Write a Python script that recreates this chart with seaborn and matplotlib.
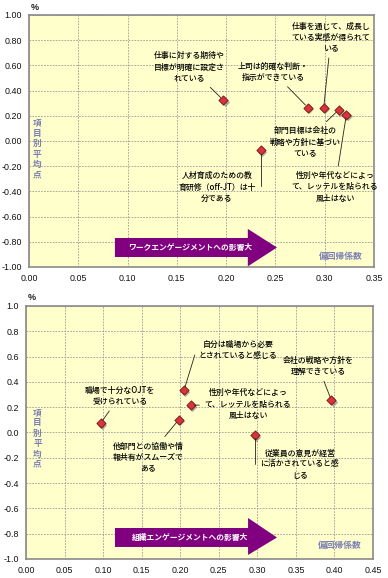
import matplotlib
matplotlib.use("Agg")
import matplotlib.pyplot as plt
import seaborn as sns
import pandas as pd
from matplotlib.patches import Polygon

# ---------------- data ----------------
top_items = [
    "仕事に対する期待や\n目標が明確に設定さ\nれている",
    "上司は的確な判断・\n指示ができている",
    "仕事を通じて、成長し\nている実感が得られて\nいる",
    "部門目標は会社の\n戦略や方針に基づい\nている",
    "性別や年代などによっ\nて、レッテルを貼られる\n風土はない",
    "人材育成のための教\n育研修（off-JT）は十\n分である",
]
top_coef = [0.197, 0.283, 0.299, 0.314, 0.322, 0.235]
top_score = [0.325, 0.265, 0.265, 0.245, 0.210, -0.075]

bot_items = [
    "職場で十分なOJTを\n受けられている",
    "自分は職場から必要\nとされていると感じる",
    "性別や年代などによっ\nて、レッテルを貼られる\n風土はない",
    "他部門との協働や情\n報共有がスムーズで\nある",
    "会社の戦略や方針を\n理解できている",
    "従業員の意見が経営\nに活かされていると感\nじる",
]
bot_coef = [0.097, 0.205, 0.214, 0.198, 0.396, 0.297]
bot_score = [0.075, 0.335, 0.215, 0.100, 0.255, -0.020]

top_xticks = [0.00, 0.05, 0.10, 0.15, 0.20, 0.25, 0.30, 0.35]
top_yticks = [1.00, 0.80, 0.60, 0.40, 0.20, 0.00, -0.20, -0.40, -0.60, -0.80, -1.00]
bot_xticks = [0.00, 0.05, 0.10, 0.15, 0.20, 0.25, 0.30, 0.35, 0.40, 0.45]
bot_yticks = [1.0, 0.8, 0.6, 0.4, 0.2, 0.0, -0.2, -0.4, -0.6, -0.8, -1.0]

top_arrow_text = "ワークエンゲージメントへの影響大"
bot_arrow_text = "組織エンゲージメントへの影響大"
xlab_text = "偏回帰係数"
ylab_text = "項目別平均点"

# label positions (layout)
top_label_pos = [(0.163, 0.587), (0.2475, 0.548), (0.3064, 0.825),
                 (0.280, -0.008), (0.3104, -0.365), (0.1907, -0.365)]
top_conn = [None, None, None, None, None, "angle,angleA=0,angleB=90,rad=0"]
bot_label_pos = [(0.1219, 0.289), (0.275, 0.652), (0.288, 0.225),
                 (0.158, -0.194), (0.3787, 0.526), (0.3553, -0.249)]
bot_conn = [None, "angle,angleA=0,angleB=73,rad=0", None, None, None,
            "angle,angleA=0,angleB=90,rad=0"]

# ---------------- style ----------------
sns.set_style("white")
plt.rcParams['font.family'] = ['Noto Sans CJK JP', 'DejaVu Sans']
plt.rcParams['axes.unicode_minus'] = False

BG = "#FFFFCC"
PURPLE = "#800080"
SLATE = "#7B7FB3"

fig = plt.figure(figsize=(3.88, 5.78), dpi=100)
ax1 = fig.add_axes([0.0747, 0.5381, 0.8892, 0.436])
ax2 = fig.add_axes([0.067, 0.0329, 0.8943, 0.4377])


def draw(ax, items, coef, score, xticks, yticks, yfmt, label_pos, conns,
         arrow, arrow_text, xlab_pos, ylab_pos, pct_y):
    df = pd.DataFrame({"coef": coef, "score": score, "item": items})
    ax.set_facecolor(BG)
    # shadow
    ax.scatter([c + 0.0015 for c in coef], [s - 0.012 for s in score], marker="D",
               s=22, color="#777777", alpha=0.6, zorder=3, linewidths=0)
    sns.scatterplot(data=df, x="coef", y="score", ax=ax, marker="D", s=22,
                    color="#D8343C", edgecolor="#7A1010", linewidth=0.6,
                    zorder=4, legend=False)
    ax.set_xlim(xticks[0], xticks[-1])
    ax.set_ylim(-1, 1)
    ax.set_xticks(xticks)
    ax.set_yticks(yticks)
    ax.set_xticklabels([f"{v:.2f}" for v in xticks], fontsize=6.4,
                       family="Liberation Sans")
    ax.set_yticklabels([yfmt % v for v in yticks], fontsize=6.4,
                       family="Liberation Sans")
    ax.set_xlabel("")
    ax.set_ylabel("")
    ax.grid(True, color="#9A9A9A", linestyle=(0, (2, 1.5)), linewidth=0.6)
    ax.set_axisbelow(True)
    for sp in ax.spines.values():
        sp.set_color("#8A8A8A")
        sp.set_linewidth(1.2)
    ax.tick_params(axis="both", direction="out", length=3, width=0.6,
                   color="#555555", pad=2, labelcolor="#111111")
    for it, (lx, ly), pt, cs in zip(items, label_pos, zip(coef, score), conns):
        props = dict(arrowstyle="-", lw=0.6, color="#222222", shrinkA=1.5,
                     shrinkB=2.5)
        if cs:
            props["connectionstyle"] = cs
        ax.annotate(it, xy=pt, xytext=(lx, ly), ha="center", va="center",
                    fontsize=5.7, linespacing=1.3, color="#000000",
                    fontweight="medium", arrowprops=props, zorder=5)
    # purple arrow
    x0, xh, xt, yb0, yb1, yh0, yh1 = arrow
    yc = (yb0 + yb1) / 2
    poly = Polygon([(x0, yb0), (xh, yb0), (xh, yh0), (xt, yc), (xh, yh1),
                    (xh, yb1), (x0, yb1)], closed=True, facecolor=PURPLE,
                   edgecolor="none", zorder=3)
    ax.add_patch(poly)
    ax.text((x0 + xh) / 2 + (xt - xh) * 0.3, yc, arrow_text, color="white",
            fontsize=5.6, fontweight="bold", ha="center", va="center", zorder=4)
    ax.text(xlab_pos[0], xlab_pos[1], xlab_text, color=SLATE, fontsize=6.3,
            fontweight="bold", ha="right", va="center", zorder=4)
    ax.text(ylab_pos[0], ylab_pos[1], "\n".join(ylab_text), color=SLATE,
            fontsize=6.2, fontweight="bold", ha="center", va="center",
            linespacing=1.2, zorder=4)
    ax.text(0.005, pct_y, "%", transform=ax.transAxes, fontsize=6.5,
            fontweight="bold", ha="left", va="center",
            family="Liberation Sans")


draw(ax1, top_items, top_coef, top_score, top_xticks, top_yticks, "%.2f",
     top_label_pos, top_conn,
     (0.0872, 0.222, 0.2516, -0.77, -0.921, -0.698, -0.995),
     top_arrow_text, (0.338, -0.92), (0.0085, -0.063), 1.028)

draw(ax2, bot_items, bot_coef, bot_score, bot_xticks, bot_yticks, "%.1f",
     bot_label_pos, bot_conn,
     (0.1154, 0.288, 0.3255, -0.755, -0.905, -0.676, -0.968),
     bot_arrow_text, (0.4357, -0.897), (0.015, -0.047), 1.032)

fig.savefig("out.png", dpi=100, facecolor="white")
